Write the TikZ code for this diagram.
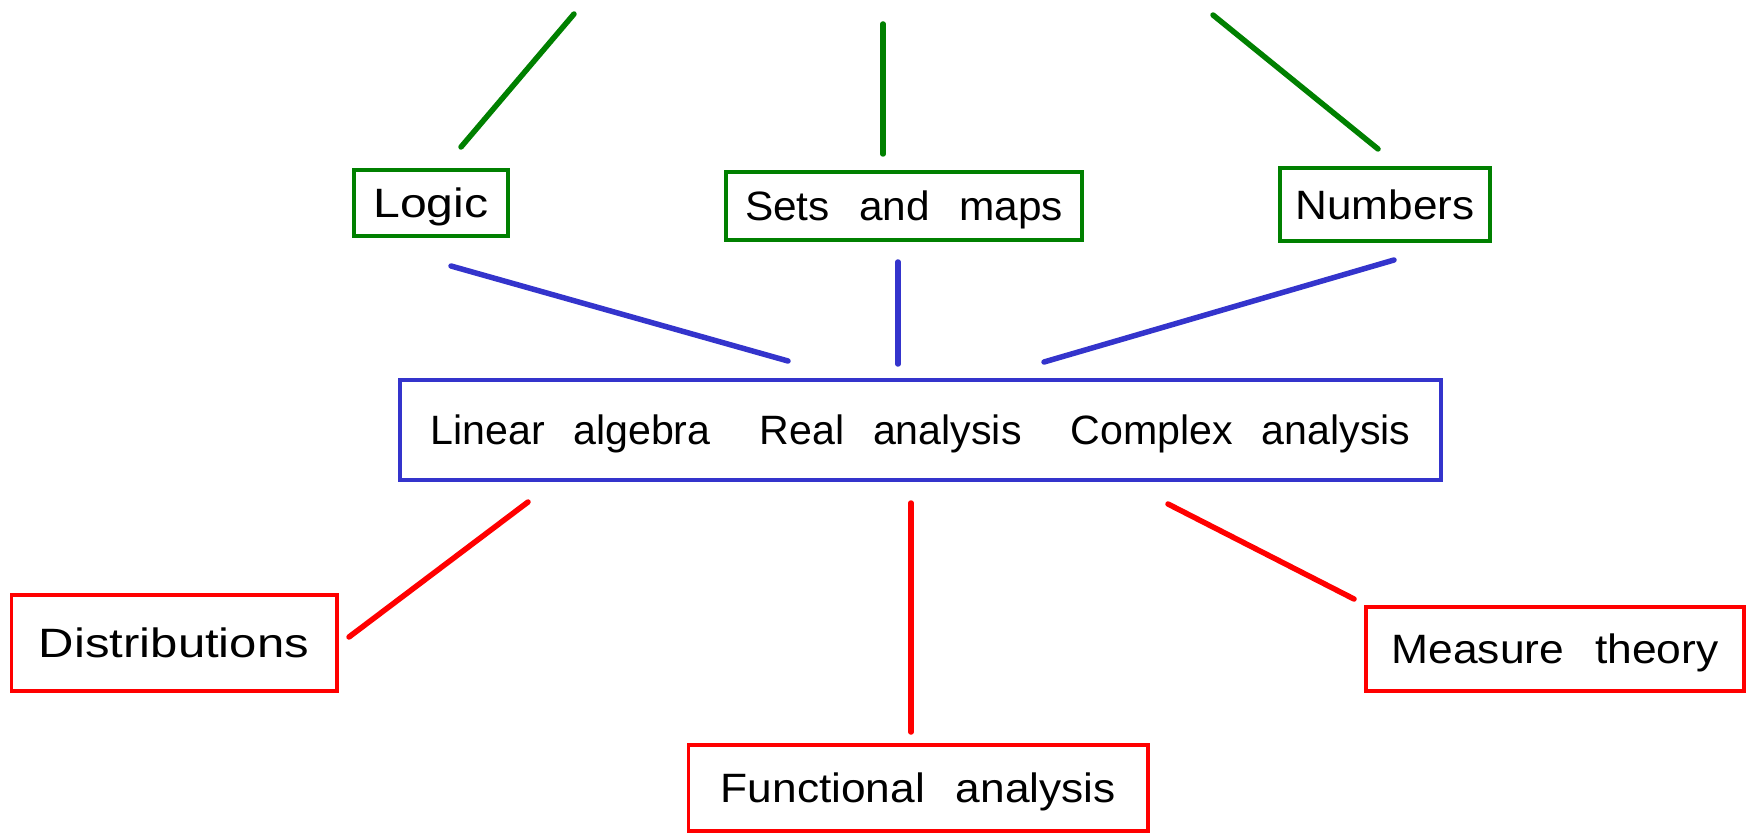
\documentclass[tikz,border=0pt]{standalone}
\usepackage{fontspec}
\setmainfont[WordSpace=2.5]{Liberation Sans}
\usepackage{graphicx}
\definecolor{mygreen}{RGB}{0,128,0}
\definecolor{myblue}{RGB}{52,52,204}
\definecolor{myred}{RGB}{255,0,0}
\newcommand{\fitto}[2]{\resizebox{#1}{\height}{#2}}
\begin{document}
\begin{tikzpicture}[x=1pt,y=-1pt,
  box/.style={draw, line width=3.8pt, inner sep=0pt,
    font=\fontsize{41}{48}\selectfont, text height=29.3pt, text depth=0pt},
  gbox/.style={box, draw=mygreen},
  bbox/.style={box, draw=myblue},
  rbox/.style={box, draw=myred},
  conn/.style={line width=5.5pt, line cap=round},
  gline/.style={conn, draw=mygreen},
  bline/.style={conn, draw=myblue},
  rline/.style={conn, draw=myred}]
\useasboundingbox (0,0) rectangle (1753,834);
% boxes
\node[gbox, minimum width=154.2pt, minimum height=66.2pt] (logic) at (431,203) {\fitto{115pt}{Logic}};
\node[gbox, minimum width=356.2pt, minimum height=68.2pt] (sets) at (904,206) {\fitto{318pt}{Sets and maps}};
\node[gbox, minimum width=210.2pt, minimum height=73.2pt] (numbers) at (1385,204.5) {\fitto{179pt}{Numbers}};
\node[bbox, minimum width=1041.2pt, minimum height=100.2pt] (core) at (920.5,430) {\fitto{980pt}{Linear algebra\hspace{1.2em}Real analysis\hspace{1.2em}Complex analysis}};
\node[rbox, minimum width=325.2pt, minimum height=96.2pt] (distr) at (174,643) {\fitto{270pt}{Distributions}};
\node[rbox, minimum width=459.7pt, minimum height=86.7pt] (func) at (918.3,788) {\fitto{395pt}{Functional analysis}};
\node[rbox, minimum width=378.2pt, minimum height=84.2pt] (measure) at (1555,649) {\fitto{327pt}{Measure theory}};
% connector end points
\coordinate (logicTop) at (574,14);
\coordinate (logicUp) at (461,147);
\coordinate (setsTop) at (883,24);
\coordinate (setsUp) at (883,154);
\coordinate (numbersTop) at (1213,15);
\coordinate (numbersUp) at (1378,149);
\coordinate (logicDown) at (451,266);
\coordinate (coreLeftUp) at (788,361);
\coordinate (setsDown) at (898,262);
\coordinate (coreMidUp) at (898,364);
\coordinate (numbersDown) at (1394,260);
\coordinate (coreRightUp) at (1044,362);
\coordinate (coreLeftDown) at (528,502);
\coordinate (distrUp) at (349,637);
\coordinate (coreMidDown) at (911,503);
\coordinate (funcUp) at (911,732);
\coordinate (coreRightDown) at (1168,504);
\coordinate (measureUp) at (1354,599);
% green
\draw[gline] (logicTop) -- (logicUp);
\draw[gline] (setsTop) -- (setsUp);
\draw[gline] (numbersTop) -- (numbersUp);
% blue
\draw[bline] (logicDown) -- (coreLeftUp);
\draw[bline] (setsDown) -- (coreMidUp);
\draw[bline] (numbersDown) -- (coreRightUp);
% red
\draw[rline] (coreLeftDown) -- (distrUp);
\draw[rline] (coreMidDown) -- (funcUp);
\draw[rline] (coreRightDown) -- (measureUp);
\end{tikzpicture}
\end{document}
